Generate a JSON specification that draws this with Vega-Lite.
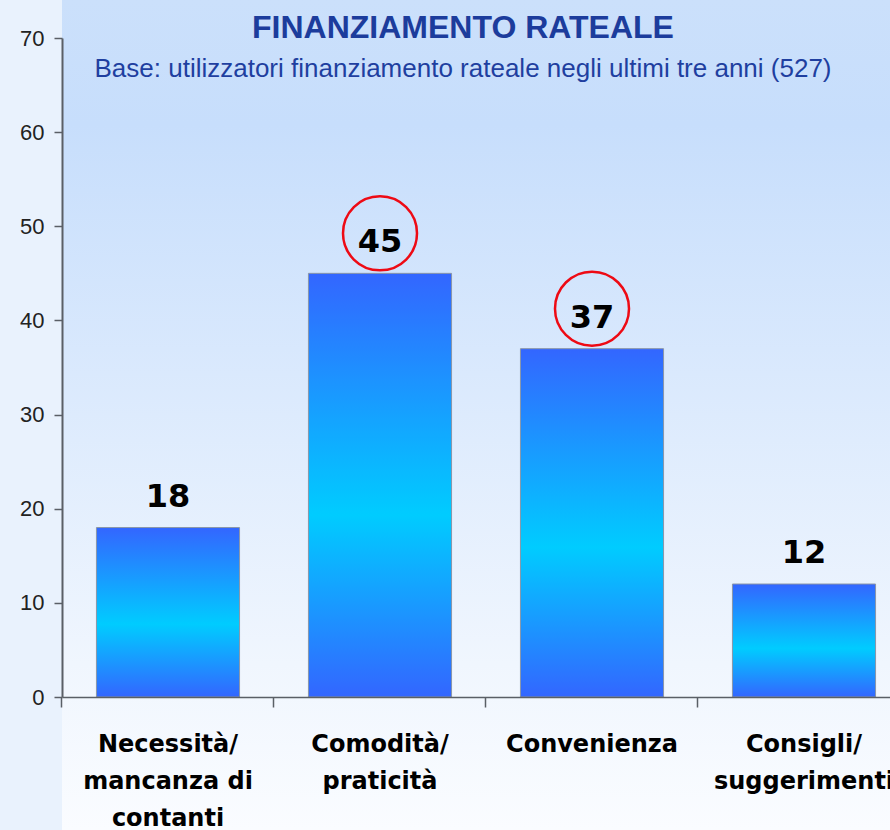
{
  "$schema": "https://vega.github.io/schema/vega-lite/v6.json",
  "width": 848,
  "height": 659,
  "autosize": {"type": "none"},
  "padding": {"left": 62, "top": 38, "right": 0, "bottom": 133},
  "background": "#e9f2fd",
  "config": {"view": {"stroke": null}},
  "title": {
    "text": "FINANZIAMENTO RATEALE",
    "subtitle": "Base: utilizzatori finanziamento rateale negli ultimi tre anni (527)",
    "anchor": "middle",
    "frame": "group",
    "offset": -83,
    "dx": -23,
    "font": "Liberation Sans",
    "fontSize": 32,
    "fontWeight": "bold",
    "color": "#1c3c9c",
    "subtitleFont": "Liberation Sans",
    "subtitleFontSize": 26,
    "subtitleColor": "#1f3fa0",
    "subtitlePadding": 11
  },
  "data": {
    "values": [
      {"cat": "Necessità/|mancanza di|contanti", "value": 18, "hl": false},
      {"cat": "Comodità/|praticità", "value": 45, "hl": true},
      {"cat": "Convenienza", "value": 37, "hl": true},
      {"cat": "Consigli/|suggerimenti", "value": 12, "hl": false}
    ]
  },
  "encoding": {
    "x": {"field": "cat", "type": "nominal", "sort": null,
      "scale": {"paddingInner": 0.325, "paddingOuter": 0.1625},
      "axis": {"title": null, "zindex": 1, "bandPosition": -0.241, "tickSize": 10, "tickColor": "#5a5f66", "domainColor": "#5a5f66", "domainWidth": 1.5, "tickWidth": 1.5,
        "labelExpr": "split(datum.label, '|')",
        "labelFont": "DejaVu Sans", "labelFontWeight": "bold", "labelFontSize": 24, "labelColor": "#000000",
        "labelLineHeight": 37, "labelPadding": 25, "labelAngle": 0, "labelLimit": 0, "labelOverlap": false}},
    "y": {"field": "value", "type": "quantitative",
      "scale": {"domain": [0, 70], "nice": false},
      "axis": {"title": null, "zindex": 1, "values": [0, 10, 20, 30, 40, 50, 60, 70], "grid": false, "tickSize": 8, "labelPadding": 10,
        "labelFont": "Liberation Sans", "labelFontSize": 22, "labelColor": "#222222",
        "domainColor": "#5a5f66", "domainWidth": 2, "tickColor": "#5a5f66", "tickWidth": 1.5}}
  },
  "layer": [
    {
      "mark": {
        "type": "rect",
        "clip": false,
        "fill": {"gradient": "linear", "x1": 0, "y1": 0, "x2": 0, "y2": 1,
          "stops": [{"offset": 0, "color": "#cbe0fb"}, {"offset": 0.15, "color": "#c7defc"}, {"offset": 0.8, "color": "#f0f6fe"}, {"offset": 1, "color": "#fafcff"}]}
      },
      "encoding": {
        "x": null,
        "y": {"datum": 74.04, "type": "quantitative"},
        "y2": {"datum": -14.13}
      }
    },
    {
      "mark": {
        "type": "bar",
        "stroke": "#8a96a8",
        "strokeWidth": 1,
        "fill": {"gradient": "linear", "x1": 0, "y1": 0, "x2": 0, "y2": 1,
          "stops": [{"offset": 0, "color": "#3366ff"}, {"offset": 0.57, "color": "#00ccff"}, {"offset": 1, "color": "#3366ff"}]}
      }
    },
    {
      "mark": {"type": "text", "font": "DejaVu Sans", "fontWeight": "bold", "fontSize": 32, "color": "#000000", "baseline": "alphabetic", "dy": -21},
      "encoding": {"text": {"field": "value", "type": "quantitative"}}
    },
    {
      "transform": [{"filter": "datum.hl"}],
      "mark": {"type": "point", "shape": "circle", "filled": false, "stroke": "#ee0a14", "strokeWidth": 2.5, "size": 5476, "yOffset": -40, "opacity": 1}
    }
  ]
}
